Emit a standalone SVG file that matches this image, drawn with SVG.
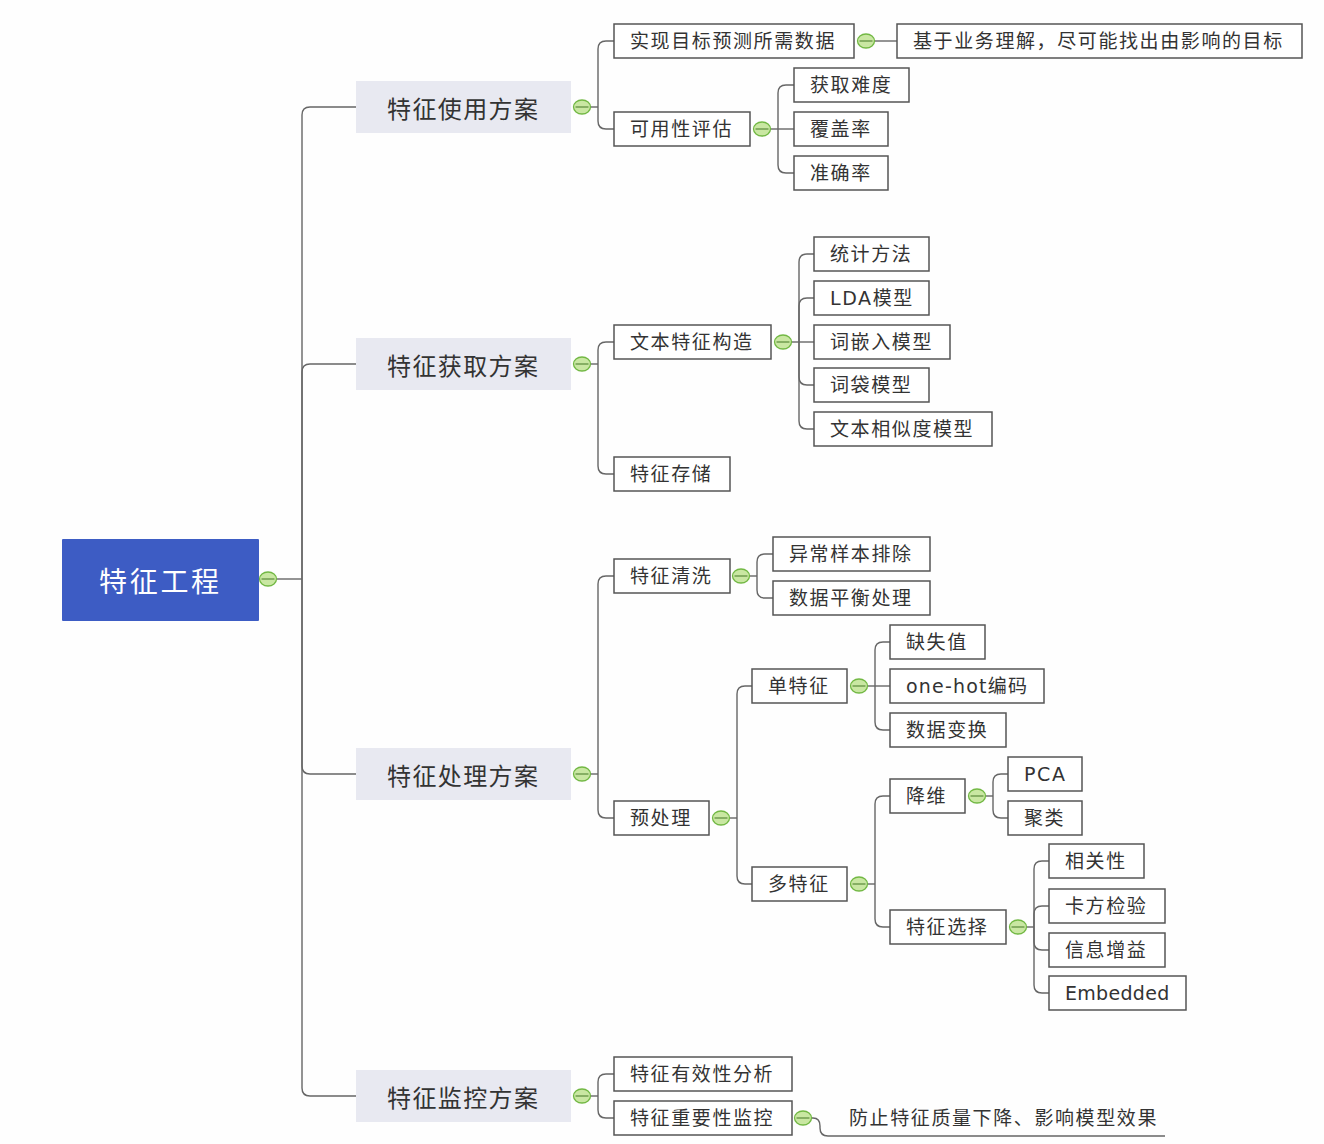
<svg xmlns="http://www.w3.org/2000/svg" xmlns:xlink="http://www.w3.org/1999/xlink" width="1324" height="1144" viewBox="0 0 1324 1144">
<style>
.c{fill:none;stroke:#666;stroke-width:1.4}
.b{fill:#fff;stroke:#555;stroke-width:1.5}
.l1{fill:#e8e9f1}
.t{font-family:"DejaVu Sans","Noto Sans CJK SC",sans-serif;font-size:19px;fill:#333;letter-spacing:1.6px;dominant-baseline:central}
.t1{font-family:"Noto Sans CJK SC",sans-serif;font-size:24px;fill:#333;letter-spacing:1.4px;dominant-baseline:central}
.t0{font-family:"Noto Sans CJK SC",sans-serif;font-size:28px;fill:#fff;letter-spacing:2.7px;dominant-baseline:central}
</style>
<defs>
<g id="tog"><ellipse cx="0" cy="0" rx="8.5" ry="7" fill="#c9e7a2" stroke="#72b844" stroke-width="1.3"/><line x1="-6.5" y1="0" x2="6.5" y2="0" stroke="#5a8a3a" stroke-width="1.2"/></g>
</defs>
<rect width="1324" height="1144" fill="#fefefe"/>
<g id="connectors">
<path class="c" d="M276 579 H302"/>
<path class="c" d="M302 579 V115 Q302 107 310 107 H356"/>
<path class="c" d="M302 579 V372 Q302 364 310 364 H356"/>
<path class="c" d="M302 579 V766 Q302 774 310 774 H356"/>
<path class="c" d="M302 579 V1088 Q302 1096 310 1096 H356"/>
<path class="c" d="M590 107 H598"/>
<path class="c" d="M598 107 V49 Q598 41 606 41 H614"/>
<path class="c" d="M598 107 V121 Q598 129 606 129 H614"/>
<path class="c" d="M874 41 H897"/>
<path class="c" d="M770 129 H778"/>
<path class="c" d="M778 129 V93 Q778 85 786 85 H794"/>
<path class="c" d="M778 129 H794"/>
<path class="c" d="M778 129 V165 Q778 173 786 173 H794"/>
<path class="c" d="M590 364 H598"/>
<path class="c" d="M598 364 V350 Q598 342 606 342 H614"/>
<path class="c" d="M598 364 V466 Q598 474 606 474 H614"/>
<path class="c" d="M791 342 H799"/>
<path class="c" d="M799 342 V262 Q799 254 807 254 H814"/>
<path class="c" d="M799 342 V306 Q799 298 807 298 H814"/>
<path class="c" d="M799 342 H814"/>
<path class="c" d="M799 342 V377 Q799 385 807 385 H814"/>
<path class="c" d="M799 342 V421 Q799 429 807 429 H814"/>
<path class="c" d="M590 774 H598"/>
<path class="c" d="M598 774 V584 Q598 576 606 576 H614"/>
<path class="c" d="M598 774 V810 Q598 818 606 818 H614"/>
<path class="c" d="M749 576 H757"/>
<path class="c" d="M757 576 V562 Q757 554 765 554 H773"/>
<path class="c" d="M757 576 V590 Q757 598 765 598 H773"/>
<path class="c" d="M729 818 H737"/>
<path class="c" d="M737 818 V694 Q737 686 745 686 H752"/>
<path class="c" d="M737 818 V876 Q737 884 745 884 H752"/>
<path class="c" d="M867 686 H875"/>
<path class="c" d="M875 686 V650 Q875 642 883 642 H890"/>
<path class="c" d="M875 686 H890"/>
<path class="c" d="M875 686 V722 Q875 730 883 730 H890"/>
<path class="c" d="M867 884 H875"/>
<path class="c" d="M875 884 V804 Q875 796 883 796 H890"/>
<path class="c" d="M875 884 V919 Q875 927 883 927 H890"/>
<path class="c" d="M985 796 H993"/>
<path class="c" d="M993 796 V782 Q993 774 1001 774 H1008"/>
<path class="c" d="M993 796 V810 Q993 818 1001 818 H1008"/>
<path class="c" d="M1026 927 H1034"/>
<path class="c" d="M1034 927 V869 Q1034 861 1042 861 H1049"/>
<path class="c" d="M1034 927 V914 Q1034 906 1042 906 H1049"/>
<path class="c" d="M1034 927 V942 Q1034 950 1042 950 H1049"/>
<path class="c" d="M1034 927 V985 Q1034 993 1042 993 H1049"/>
<path class="c" d="M590 1096 H598"/>
<path class="c" d="M598 1096 V1082 Q598 1074 606 1074 H614"/>
<path class="c" d="M598 1096 V1110 Q598 1118 606 1118 H614"/>
<path class="c" d="M811 1118 H813 Q820 1118 820 1126 V1128 Q820 1136 828 1136 H1165"/>
</g>
<g id="nodes">
<g id="root"><rect x="62" y="539" width="197" height="82" fill="#3d5cc4" rx="1"/><text class="t0" x="99" y="580">特征工程</text></g>
<g id="use-plan"><rect class="l1" x="356" y="81" width="215" height="52"/><text class="t1" x="387" y="107">特征使用方案</text></g>
<g id="get-plan"><rect class="l1" x="356" y="338" width="215" height="52"/><text class="t1" x="387" y="364">特征获取方案</text></g>
<g id="proc-plan"><rect class="l1" x="356" y="748" width="215" height="52"/><text class="t1" x="387" y="774">特征处理方案</text></g>
<g id="mon-plan"><rect class="l1" x="356" y="1070" width="215" height="52"/><text class="t1" x="387" y="1096">特征监控方案</text></g>

<g id="n-data"><rect class="b" x="614" y="24" width="240" height="34"/><text class="t" x="630" y="41">实现目标预测所需数据</text></g>
<g id="n-data-note"><rect class="b" x="897" y="24" width="405" height="34"/><text class="t" x="913" y="41">基于业务理解，尽可能找出由影响的目标</text></g>
<g id="n-eval"><rect class="b" x="614" y="112" width="136" height="34"/><text class="t" x="630" y="129">可用性评估</text></g>
<g id="n-eval-1"><rect class="b" x="794" y="68" width="115" height="34"/><text class="t" x="810" y="85">获取难度</text></g>
<g id="n-eval-2"><rect class="b" x="794" y="112" width="94" height="34"/><text class="t" x="810" y="129">覆盖率</text></g>
<g id="n-eval-3"><rect class="b" x="794" y="156" width="94" height="34"/><text class="t" x="810" y="173">准确率</text></g>

<g id="n-text"><rect class="b" x="614" y="325" width="157" height="34"/><text class="t" x="630" y="342">文本特征构造</text></g>
<g id="n-text-1"><rect class="b" x="814" y="237" width="115" height="34"/><text class="t" x="830" y="254">统计方法</text></g>
<g id="n-text-2"><rect class="b" x="814" y="281" width="115" height="34"/><text class="t" x="830" y="298">LDA模型</text></g>
<g id="n-text-3"><rect class="b" x="814" y="325" width="136" height="34"/><text class="t" x="830" y="342">词嵌入模型</text></g>
<g id="n-text-4"><rect class="b" x="814" y="368" width="115" height="34"/><text class="t" x="830" y="385">词袋模型</text></g>
<g id="n-text-5"><rect class="b" x="814" y="412" width="178" height="34"/><text class="t" x="830" y="429">文本相似度模型</text></g>
<g id="n-store"><rect class="b" x="614" y="457" width="116" height="34"/><text class="t" x="630" y="474">特征存储</text></g>

<g id="n-clean"><rect class="b" x="614" y="559" width="116" height="34"/><text class="t" x="630" y="576">特征清洗</text></g>
<g id="n-clean-1"><rect class="b" x="773" y="537" width="157" height="34"/><text class="t" x="789" y="554">异常样本排除</text></g>
<g id="n-clean-2"><rect class="b" x="773" y="581" width="157" height="34"/><text class="t" x="789" y="598">数据平衡处理</text></g>
<g id="n-pre"><rect class="b" x="614" y="801" width="95" height="34"/><text class="t" x="630" y="818">预处理</text></g>
<g id="n-single"><rect class="b" x="752" y="669" width="95" height="34"/><text class="t" x="768" y="686">单特征</text></g>
<g id="n-single-1"><rect class="b" x="890" y="625" width="95" height="34"/><text class="t" x="906" y="642">缺失值</text></g>
<g id="n-single-2"><rect class="b" x="890" y="669" width="154" height="34"/><text class="t" x="906" y="686" style="letter-spacing:1.2px">one-hot编码</text></g>
<g id="n-single-3"><rect class="b" x="890" y="713" width="116" height="34"/><text class="t" x="906" y="730">数据变换</text></g>
<g id="n-multi"><rect class="b" x="752" y="867" width="95" height="34"/><text class="t" x="768" y="884">多特征</text></g>
<g id="n-dim"><rect class="b" x="890" y="779" width="75" height="34"/><text class="t" x="906" y="796">降维</text></g>
<g id="n-pca"><rect class="b" x="1008" y="757" width="74" height="34"/><text class="t" x="1024" y="774">PCA</text></g>
<g id="n-cluster"><rect class="b" x="1008" y="801" width="74" height="34"/><text class="t" x="1024" y="818">聚类</text></g>
<g id="n-select"><rect class="b" x="890" y="910" width="116" height="34"/><text class="t" x="906" y="927">特征选择</text></g>
<g id="n-sel-1"><rect class="b" x="1049" y="844" width="95" height="34"/><text class="t" x="1065" y="861">相关性</text></g>
<g id="n-sel-2"><rect class="b" x="1049" y="889" width="116" height="34"/><text class="t" x="1065" y="906">卡方检验</text></g>
<g id="n-sel-3"><rect class="b" x="1049" y="933" width="116" height="34"/><text class="t" x="1065" y="950">信息增益</text></g>
<g id="n-sel-4"><rect class="b" x="1049" y="976" width="137" height="34"/><text class="t" x="1065" y="993" style="letter-spacing:0.3px">Embedded</text></g>

<g id="n-valid"><rect class="b" x="614" y="1057" width="178" height="34"/><text class="t" x="630" y="1074">特征有效性分析</text></g>
<g id="n-imp"><rect class="b" x="614" y="1101" width="178" height="34"/><text class="t" x="630" y="1118">特征重要性监控</text></g>
<g id="n-imp-note"><text class="t" x="849" y="1118">防止特征质量下降、影响模型效果</text></g>
</g>
<g id="toggles">
<use xlink:href="#tog" x="268" y="579"/>
<use xlink:href="#tog" x="582" y="107"/>
<use xlink:href="#tog" x="582" y="364"/>
<use xlink:href="#tog" x="582" y="774"/>
<use xlink:href="#tog" x="582" y="1096"/>
<use xlink:href="#tog" x="866" y="41"/>
<use xlink:href="#tog" x="762" y="129"/>
<use xlink:href="#tog" x="783" y="342"/>
<use xlink:href="#tog" x="741" y="576"/>
<use xlink:href="#tog" x="721" y="818"/>
<use xlink:href="#tog" x="859" y="686"/>
<use xlink:href="#tog" x="859" y="884"/>
<use xlink:href="#tog" x="977" y="796"/>
<use xlink:href="#tog" x="1018" y="927"/>
<use xlink:href="#tog" x="803" y="1118"/>
</g>
</svg>
